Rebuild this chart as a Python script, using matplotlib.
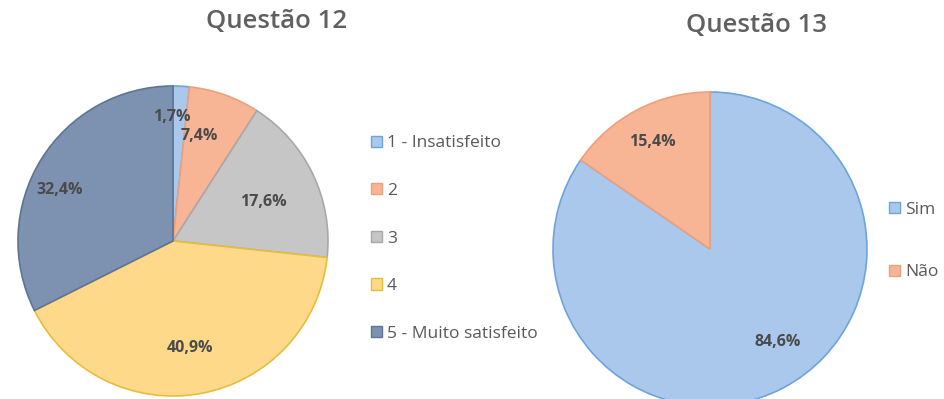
import matplotlib.pyplot as plt
from matplotlib.patches import Patch

plt.rcParams['font.family'] = ['Open Sans', 'DejaVu Sans']

# Questão 12
q12_labels = ['1 - Insatisfeito', '2', '3', '4', '5 - Muito satisfeito']
q12_values = [1.7, 7.4, 17.6, 40.9, 32.4]
q12_colors = ['#a9c8ec', '#f8b595', '#c6c6c6', '#ffd98a', '#7d91b0']
q12_edges = ['#6fa3dc', '#eea07a', '#a8a8a8', '#e6bd3c', '#5f7394']

# Questão 13
q13_labels = ['Sim', 'Não']
q13_values = [84.6, 15.4]
q13_colors = ['#a9c8ec', '#f8b595']
q13_edges = ['#6fa3dc', '#eea07a']

W, H = 944, 399
fig = plt.figure(figsize=(W / 100, H / 100), dpi=100)


def pie_axes(cx, cy, r):
    return fig.add_axes([(cx - r) / W, (H - cy - r) / H, 2 * r / W, 2 * r / H])


def fmt(p):
    return f'{p:.1f}%'.replace('.', ',')


def draw_pie(ax, values, colors, edges, pctdist):
    wedges, texts, autotexts = ax.pie(values, colors=colors, startangle=90, counterclock=False,
                                      radius=1, autopct=fmt, pctdistance=pctdist,
                                      wedgeprops=dict(linewidth=1.2),
                                      textprops=dict(fontsize=11.5, fontweight='bold', color='#4a4a4a'))
    for w, ec in zip(wedges, edges):
        w.set_edgecolor(ec)
    # pie() sets its own limits, so fit the circle to the axes afterwards
    ax.set_xlim(-1, 1)
    ax.set_ylim(-1, 1)
    ax.set_aspect('equal')
    ax.axis('off')
    return wedges, autotexts


ax1 = pie_axes(173, 241, 155)
w1, t1 = draw_pie(ax1, q12_values, q12_colors, q12_edges, 0.74)
# nudge the labels of the thin slices apart
t1[0].set_position((-0.01, 0.80))
t1[1].set_position((0.17, 0.68))
t1[2].set_position((0.58, 0.25))
t1[4].set_position((-0.73, 0.33))
t1[3].set_position((0.11, -0.69))

ax2 = pie_axes(710, 249, 157)
w2, t2 = draw_pie(ax2, q13_values, q13_colors, q13_edges, 0.76)
t2[0].set_position((0.43, -0.59))
t2[1].set_position((-0.37, 0.68))

fig.text(277 / W, 1 - 28 / H, 'Questão 12', ha='center', va='baseline',
         fontsize=18.5, fontweight='semibold', color='#606060')
fig.text(756 / W, 1 - 32 / H, 'Questão 13', ha='center', va='baseline',
         fontsize=18.5, fontweight='semibold', color='#606060')


def legend(labels, colors, edges, x, y, spacing):
    handles = [Patch(facecolor=c, edgecolor=e, linewidth=1) for c, e in zip(colors, edges)]
    fig.legend(handles, labels, loc='center left', bbox_to_anchor=(x / W, 1 - y / H),
               frameon=False, fontsize=12.5, labelcolor='#595959', handlelength=0.62,
               handleheight=0.62, handletextpad=0.3, labelspacing=spacing, borderpad=0,
               borderaxespad=0)


legend(q12_labels, q12_colors, q12_edges, 371, 238.5, 1.82)
legend(q13_labels, q13_colors, q13_edges, 889, 241, 2.7)

fig.savefig('out.png', dpi=100, facecolor='white')
